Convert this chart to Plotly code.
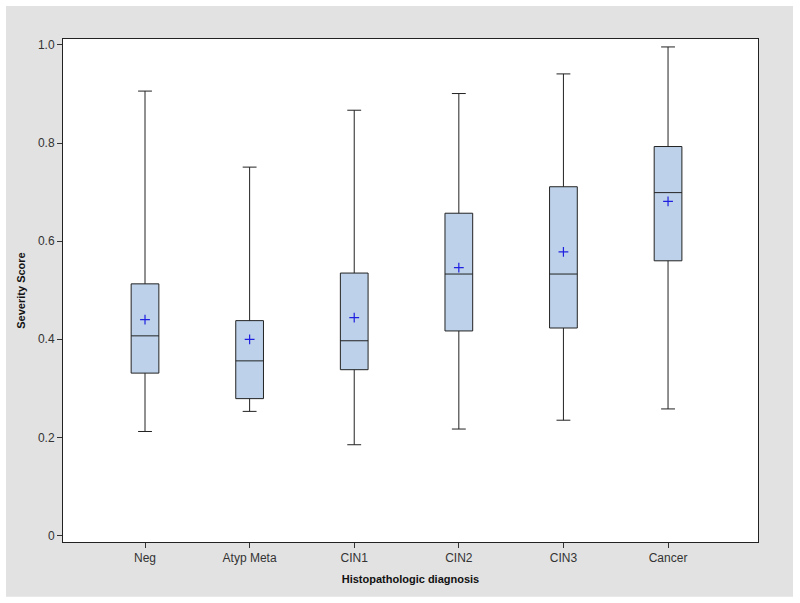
import plotly.graph_objects as go

categories = ["Neg", "Atyp Meta", "CIN1", "CIN2", "CIN3", "Cancer"]
lower_whisker = [0.212, 0.253, 0.185, 0.217, 0.235, 0.258]
q1_values = [0.331, 0.279, 0.338, 0.417, 0.423, 0.560]
median_values = [0.407, 0.356, 0.397, 0.533, 0.533, 0.699]
q3_values = [0.513, 0.438, 0.535, 0.657, 0.711, 0.793]
upper_whisker = [0.906, 0.751, 0.867, 0.901, 0.941, 0.996]
mean_values = [0.440, 0.400, 0.444, 0.546, 0.578, 0.681]

y_tick_vals = [0, 0.2, 0.4, 0.6, 0.8, 1.0]
y_tick_text = ["0", "0.2", "0.4", "0.6", "0.8", "1.0"]

fig = go.Figure()
fig.add_trace(go.Box(
    x=categories,
    q1=q1_values, median=median_values, q3=q3_values,
    lowerfence=lower_whisker, upperfence=upper_whisker,
    boxpoints=False,
    fillcolor="#bdd2ea",
    line=dict(color="#222222", width=1),
    whiskerwidth=0.5,
    width=0.265,
    showlegend=False,
    hoverinfo="skip",
))
fig.add_trace(go.Scatter(
    x=categories, y=mean_values, mode="markers",
    marker=dict(symbol="cross-thin", size=7, line=dict(color="#2020e0", width=1.2)),
    showlegend=False, hoverinfo="skip",
))

W, H = 800, 603
L, R, T, B = 63, 758, 39, 542.3
pw, ph = R - L, B - T
fig.add_shape(type="rect", xref="paper", yref="paper", layer="below",
              x0=(6 - L) / pw, x1=(793 - L) / pw,
              y0=(B - 597) / ph, y1=(B - 6) / ph,
              fillcolor="#e2e2e2", line=dict(width=0))
fig.add_shape(type="rect", xref="paper", yref="paper", layer="below",
              x0=0, x1=1, y0=0, y1=1,
              fillcolor="white", line=dict(width=0))

font_fam = "Liberation Sans, Arial, sans-serif"
fig.update_layout(
    width=W, height=H,
    margin=dict(l=L, r=W - R, t=T, b=H - B),
    paper_bgcolor="white", plot_bgcolor="white",
    font=dict(family=font_fam, size=11, color="#333333"),
    xaxis=dict(
        type="category", range=[-0.784, 5.86],
        showline=True, linecolor="#222222", linewidth=1, mirror=True,
        ticks="outside", ticklen=5, tickcolor="#333333",
        showgrid=False, zeroline=False,
        tickfont=dict(size=12, color="#333333"),
        title=dict(text="<b>Histopathologic diagnosis</b>",
                   font=dict(size=11, color="#111111"), standoff=10),
    ),
    yaxis=dict(
        range=[-0.0133, 1.0122],
        tickvals=y_tick_vals, ticktext=y_tick_text,
        showline=True, linecolor="#222222", linewidth=1, mirror=True,
        ticks="outside", ticklen=5, tickcolor="#333333",
        showgrid=False, zeroline=False,
        tickfont=dict(size=12, color="#333333"),
        title=dict(text="<b>Severity Score</b>",
                   font=dict(size=11, color="#111111"), standoff=10),
    ),
)

fig.write_html("out.html",
               config={"displayModeBar": False},
               post_script="document.body.style.margin='0';document.body.style.overflow='hidden';")
